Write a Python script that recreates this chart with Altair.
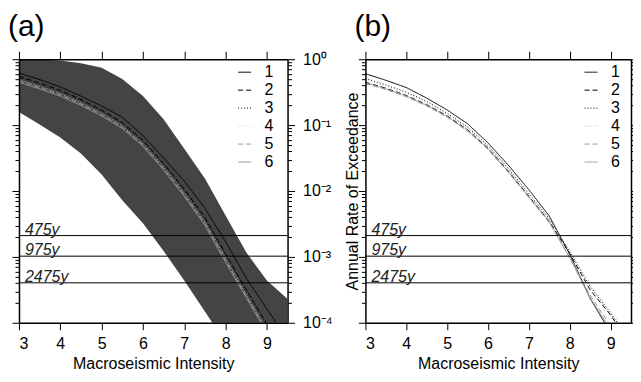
import altair as alt
import pandas as pd

FONT = "Liberation Sans"

# ---------------- data ----------------
intensity = [3.0, 3.5, 4.0, 4.5, 5.0, 5.5, 6.0, 6.5, 7.0, 7.5, 8.0, 8.5, 9.0, 9.5]
series_names = ["1", "2", "3", "4", "5", "6"]

# panel (a): log10 of annual rate of exceedance
a1 = [-0.21, -0.31, -0.42, -0.56, -0.71, -0.88, -1.16, -1.50, -1.85, -2.26, -2.77, -3.32, -3.79, -4.25]
a2 = [-0.26, -0.36, -0.47, -0.61, -0.77, -0.96, -1.23, -1.58, -1.97, -2.40, -2.95, -3.50, -4.02, -4.50]
a3 = [-0.28, -0.38, -0.49, -0.63, -0.79, -0.98, -1.25, -1.60, -1.99, -2.42, -2.96, -3.50, -4.03, -4.50]
a4 = [-0.31, -0.41, -0.52, -0.66, -0.82, -1.01, -1.28, -1.63, -2.03, -2.47, -3.02, -3.57, -4.10, -4.60]
a5 = [-0.33, -0.43, -0.54, -0.68, -0.84, -1.03, -1.30, -1.66, -2.06, -2.50, -3.05, -3.60, -4.13, -4.60]
a6 = [-0.35, -0.45, -0.56, -0.70, -0.86, -1.05, -1.32, -1.68, -2.08, -2.52, -3.08, -3.62, -4.15, -4.60]
band_upper = [0.0, -0.005, -0.02, -0.06, -0.13, -0.30, -0.56, -0.91, -1.36, -1.81, -2.37, -2.93, -3.36, -3.64]
band_lower = [-0.80, -0.99, -1.19, -1.43, -1.75, -2.14, -2.49, -2.91, -3.36, -3.83, -4.30, -4.80, -5.30, -5.80]

# panel (b)
b1 = [-0.22, -0.32, -0.43, -0.59, -0.77, -0.98, -1.27, -1.61, -1.98, -2.38, -2.96, -3.63, -4.15, -4.70]
b2 = [-0.35, -0.44, -0.55, -0.69, -0.86, -1.07, -1.35, -1.70, -2.08, -2.46, -2.95, -3.50, -3.88, -4.35]
b3 = [-0.29, -0.39, -0.50, -0.64, -0.82, -1.03, -1.31, -1.66, -2.04, -2.42, -2.92, -3.45, -3.85, -4.30]
b4 = [-0.31, -0.41, -0.52, -0.66, -0.84, -1.05, -1.33, -1.68, -2.06, -2.43, -2.90, -3.42, -3.83, -4.25]
b5 = [-0.37, -0.46, -0.57, -0.71, -0.88, -1.09, -1.37, -1.72, -2.10, -2.48, -3.00, -3.58, -4.05, -4.50]
b6 = [-0.36, -0.45, -0.56, -0.70, -0.87, -1.08, -1.36, -1.71, -2.09, -2.47, -3.02, -3.62, -4.10, -4.60]

return_periods = [475, 975, 2475]
period_labels = ["475y", "975y", "2475y"]
panel_letters = ["(a)", "(b)"]

line_colors = ["#000000", "#000000", "#000000", "#c8c8c8", "#9a9a9a", "#9a9a9a"]
line_dashes = [[1, 0], [5, 3], [1, 2], [1, 2], [5, 3], [1, 0]]

# ---------------- tables ----------------
def lines_table(arrays):
    rows = []
    for name, arr in zip(series_names, arrays):
        for x, v in zip(intensity, arr):
            rows.append({"series": name, "x": x, "rate": 10 ** v})
    return pd.DataFrame(rows)

lines_a = lines_table([a1, a2, a3, a4, a5, a6])
lines_b = lines_table([b1, b2, b3, b4, b5, b6])
band_df = pd.DataFrame({"x": intensity,
                        "hi": [10 ** v for v in band_upper],
                        "lo": [10 ** v for v in band_lower]})
rules_df = pd.DataFrame({"rate": [1.0 / p for p in return_periods], "label": period_labels})

# ---------------- scales / axes ----------------
xs = alt.Scale(domain=[3, 9.5], nice=False, zero=False)
ys = alt.Scale(type="log", domain=[1e-4, 1], nice=False)
xvals = [3, 4, 5, 6, 7, 8, 9]
yvals = sorted(set([m * 10 ** e for e in range(-4, 0) for m in range(1, 10)] + [1.0]))

major = "abs(log(datum.value)/LN10 - round(log(datum.value)/LN10)) < 0.001"
ex = "round(log(datum.value)/LN10)"
label_expr = (f"{major} ? ({ex} == 0 ? '10⁰' : {ex} == -1 ? '10⁻¹' : {ex} == -2 ? '10⁻²' : "
              f"{ex} == -3 ? '10⁻³' : '10⁻⁴') : ''")
ytick = {"condition": {"test": major, "value": 7}, "value": 4}

common_axis = dict(domainColor="black", domainWidth=1.5, tickColor="black", tickWidth=1,
                   grid=False, zindex=1, labelColor="black", labelFont=FONT,
                   labelFontSize=16, titleFont=FONT, titleFontSize=16,
                   titleFontWeight="normal", titleColor="black")

color_scale = alt.Scale(domain=series_names, range=line_colors)
dash_scale = alt.Scale(domain=series_names, range=line_dashes)
legend_kw = dict(orient="none", legendX=218, legendY=5, title=None, symbolType="stroke",
                 symbolSize=170, symbolStrokeWidth=1, labelFont=FONT, labelFontSize=16,
                 labelColor="black", rowPadding=2, labelOffset=12, padding=0)

PLOT_H = 264


def panel(lines_df, letter, left_title, right_labels, with_band, width):
    if left_title:
        left_axis = alt.Axis(orient="left", values=yvals, labels=False, tickSize=ytick,
                             title=left_title, titlePadding=0, titleBaseline="alphabetic",
                             **common_axis)
    else:
        left_axis = alt.Axis(orient="left", values=yvals, labels=False, tickSize=ytick,
                             title=None, **common_axis)
    if right_labels:
        right_axis = alt.Axis(orient="right", values=yvals, labelExpr=label_expr,
                              tickSize=ytick, labelPadding=8, title=None, **common_axis)
    else:
        right_axis = alt.Axis(orient="right", values=yvals, labels=False,
                              tickSize=ytick, title=None, **common_axis)
    bottom_axis = alt.Axis(orient="bottom", values=xvals, tickSize=7, labelPadding=6,
                           title="Macroseismic Intensity", titlePadding=4, **common_axis)
    top_axis = alt.Axis(orient="top", values=xvals, tickSize=8, labels=False, title=None,
                        **common_axis)

    layers = []
    if with_band:
        layers.append(alt.Chart(band_df).mark_area(color="#444444", clip=True).encode(
            x=alt.X("x:Q", scale=xs, axis=None),
            y=alt.Y("hi:Q", scale=ys, axis=None),
            y2="lo:Q"))

    lines = alt.Chart(lines_df).mark_line(strokeWidth=1, clip=True).encode(
        x=alt.X("x:Q", scale=xs, axis=bottom_axis),
        y=alt.Y("rate:Q", scale=ys, axis=left_axis),
        color=alt.Color("series:N", scale=color_scale, legend=alt.Legend(**legend_kw)),
        strokeDash=alt.StrokeDash("series:N", scale=dash_scale, legend=alt.Legend(**legend_kw)),
        order=alt.Order("series:N", sort="descending"))
    layers.append(lines)

    ghost = alt.Chart(lines_df).mark_line(strokeOpacity=0, clip=True).encode(
        x=alt.X("x:Q", scale=xs, axis=top_axis),
        y=alt.Y("rate:Q", scale=ys, axis=right_axis),
        detail="series:N")
    layers.append(ghost)

    rules = alt.Chart(rules_df).mark_rule(color="black", strokeWidth=1).encode(
        y=alt.Y("rate:Q", scale=ys, axis=None))
    labels = alt.Chart(rules_df).mark_text(align="left", baseline="alphabetic", dy=-1,
                                           fontStyle="italic", fontSize=16, font=FONT,
                                           color="#222222").encode(
        x=alt.value(6), y=alt.Y("rate:Q", scale=ys, axis=None), text="label:N")
    layers += [rules, labels]

    # panel letter drawn as a text mark above the frame
    letter_df = pd.DataFrame({"letter": [letter]})
    layers.append(alt.Chart(letter_df).mark_text(
        align="left", baseline="alphabetic", fontSize=30, font=FONT, color="black").encode(
        x=alt.value(-11), y=alt.value(-23), text="letter:N"))

    return alt.layer(*layers).properties(width=width, height=PLOT_H)


pa = panel(lines_a, panel_letters[0], None, True, True, 269)
pb = panel(lines_b, panel_letters[1], "Annual Rate of Exceedance", False, False, 266)

chart = alt.hconcat(pa, pb, spacing=78, bounds="flush").resolve_scale(
    color="independent", strokeDash="independent").resolve_legend(
    color="independent", strokeDash="independent").properties(
    padding={"left": 0, "top": 4, "right": -6, "bottom": 0}).configure_view(stroke=None)

chart.save("out.html", embed_options={"renderer": "svg", "actions": False})
